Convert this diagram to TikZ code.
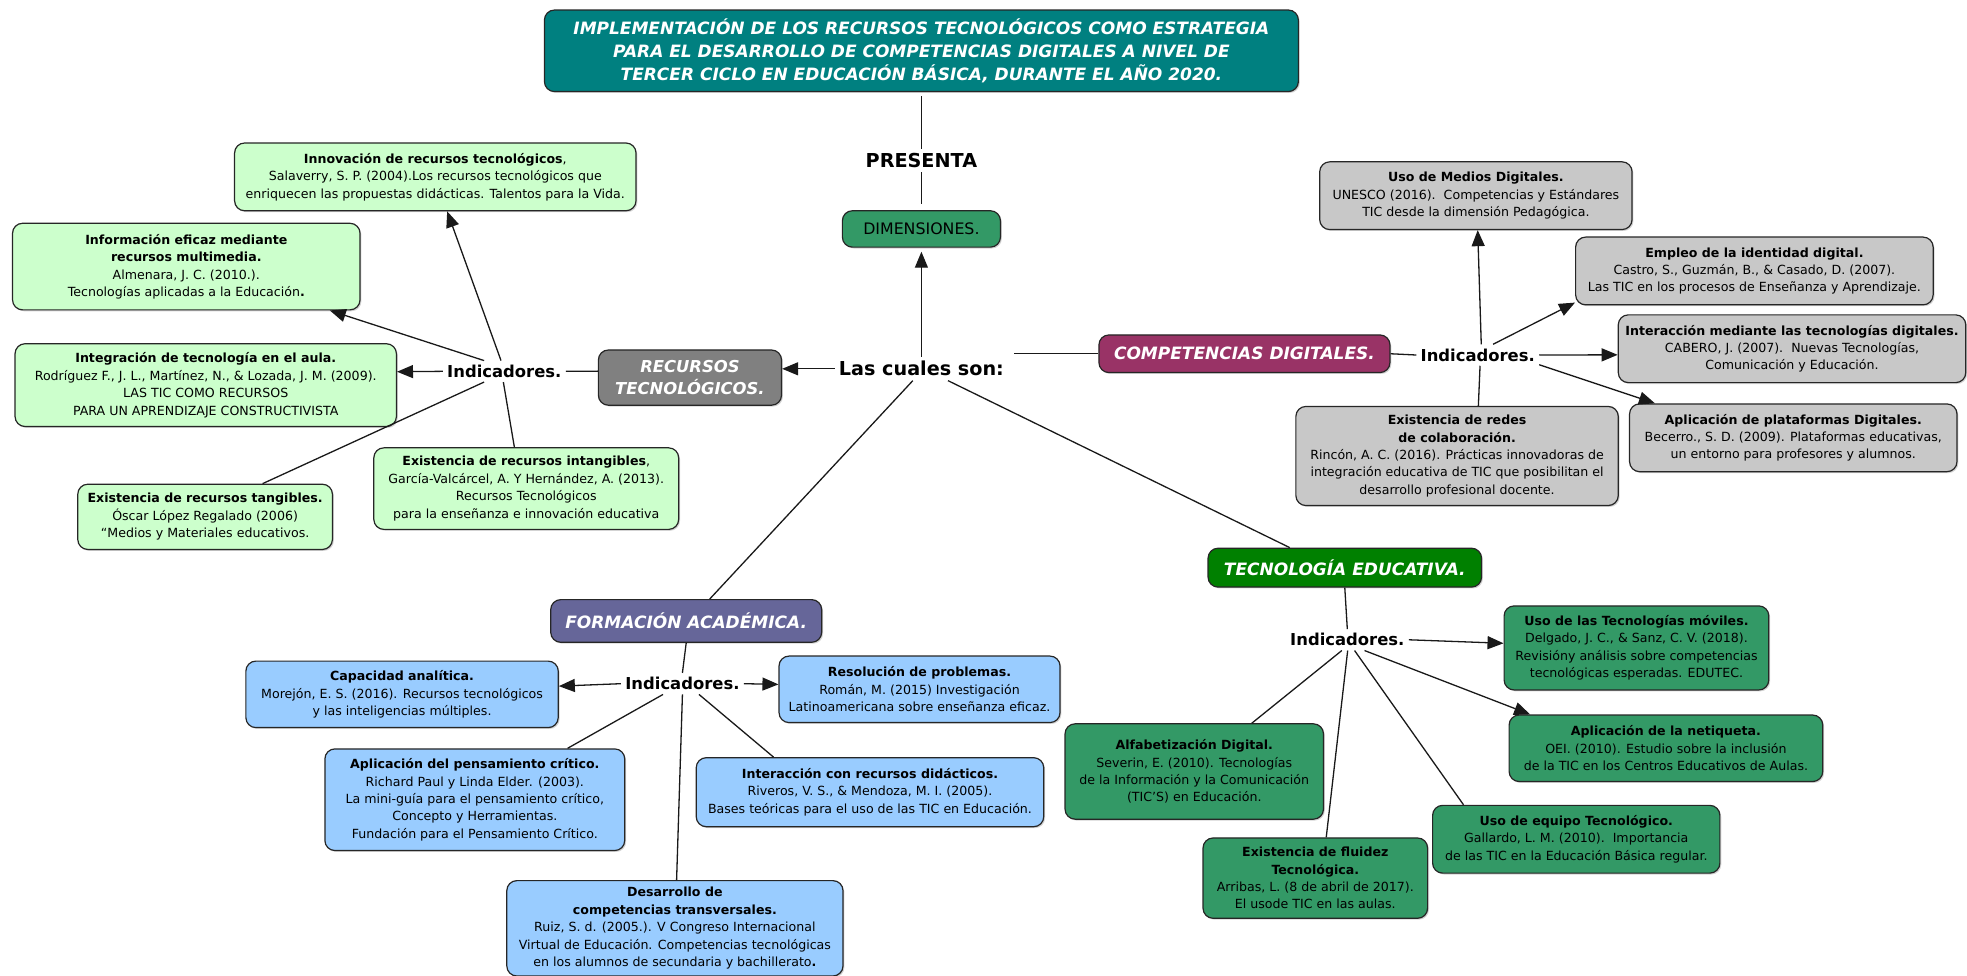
\documentclass[tikz,border=0pt]{standalone}
\usepackage{fontspec}
\setmainfont{DejaVu Sans}
\usetikzlibrary{arrows.meta,shadows}
\definecolor{titleteal}{HTML}{008080}
\definecolor{dimgreen}{HTML}{339966}
\definecolor{recgrey}{HTML}{808080}
\definecolor{comppurple}{HTML}{993366}
\definecolor{formslate}{HTML}{666699}
\definecolor{tecgreen}{HTML}{008000}
\definecolor{leafgreen}{HTML}{CCFFCC}
\definecolor{leafgrey}{HTML}{C8C8C8}
\definecolor{leafblue}{HTML}{99CCFF}
\definecolor{leafdark}{HTML}{339966}
\begin{document}
\begin{tikzpicture}[x=0.62725pt,y=-0.62725pt,
  bw/.style={minimum width=#1*0.62725pt},
  bh/.style={minimum height=#1*0.62725pt},
  box/.style={draw=black!85, line width=0.6pt, rounded corners=5pt, align=center, inner sep=1pt,
    font=\fontsize{6.3}{8.7}\selectfont,
    drop shadow={shadow xshift=0.7pt,shadow yshift=-0.7pt,opacity=0.35}},
  catbox/.style={box, text=white, font=\fontsize{8.5}{10.7}\selectfont\bfseries\itshape},
  titlebox/.style={box, fill=titleteal, text=white, font=\fontsize{8.5}{11.3}\selectfont\bfseries\itshape},
  ind/.style={font=\fontsize{8.2}{10}\selectfont\bfseries, inner sep=2pt},
  big/.style={font=\fontsize{9.6}{11}\selectfont\bfseries, inner sep=2pt},
  conn/.style={draw=black!90, line width=0.65pt},
  arr/.style={conn, -{Triangle[length=8pt,width=6.5pt]}},
  gbox/.style={box, fill=leafgreen},
  sbox/.style={box, fill=leafgrey},
  bbox/.style={box, fill=leafblue},
  dbox/.style={box, fill=leafdark}
]
\path[use as bounding box] (0,0) rectangle (1568,778);

% central spine
\node[titlebox, bw=601, bh=65] (title) at (734.5,40.5) {IMPLEMENTACIÓN DE LOS RECURSOS TECNOLÓGICOS COMO ESTRATEGIA\\PARA EL DESARROLLO DE COMPETENCIAS DIGITALES A NIVEL DE\\TERCER CICLO EN EDUCACIÓN BÁSICA, DURANTE EL AÑO 2020.};
\node[big] (pres) at (734.5,128) {PRESENTA};
\node[box, fill=dimgreen, bw=126, bh=29, font=\fontsize{7.9}{9}\selectfont] (dim) at (734.5,182.5) {DIMENSIONES.};
\node[big] (lcs) at (734.5,294) {Las cuales son:};

\node[catbox, fill=recgrey, bw=146, bh=44, font=\fontsize{8.2}{10.7}\selectfont\bfseries\itshape] (rec) at (550,301) {RECURSOS\\TECNOLÓGICOS.};
\node[catbox, fill=comppurple, bw=232, bh=30] (comp) at (992,282) {COMPETENCIAS DIGITALES.};
\node[catbox, fill=formslate, bw=216, bh=34] (form) at (547,495) {FORMACIÓN ACADÉMICA.};
\node[catbox, fill=tecgreen, bw=218, bh=31] (tec) at (1072,452.5) {TECNOLOGÍA EDUCATIVA.};

\node[ind] (i1) at (402,296) {Indicadores.};
\node[ind] (i2) at (1178,283) {Indicadores.};
\node[ind] (i3) at (544,545) {Indicadores.};
\node[ind] (i4) at (1074,510) {Indicadores.};

% recursos tecnologicos leaves
\node[gbox, bw=320, bh=54] (innov) at (347,141) {\textbf{Innovación de recursos tecnológicos},\\Salaverry, S. P. (2004).Los recursos tecnológicos que\\enriquecen las propuestas didácticas. Talentos para la Vida.};
\node[gbox, bw=277, bh=69] (inform) at (148.5,212.5) {\textbf{Información eficaz mediante}\\\textbf{recursos multimedia.}\\Almenara, J. C. (2010.).\\Tecnologías aplicadas a la Educación\textbf{.}};
\node[gbox, bw=304, bh=66] (integ) at (164,307) {\textbf{Integración de tecnología en el aula.}\\Rodríguez F., J. L., Martínez, N., \& Lozada, J. M. (2009).\\LAS TIC COMO RECURSOS\\PARA UN APRENDIZAJE CONSTRUCTIVISTA};
\node[gbox, bw=203, bh=52] (tang) at (163.5,412) {\textbf{Existencia de recursos tangibles.}\\Óscar López Regalado (2006)\\“Medios y Materiales educativos.};
\node[gbox, bw=243, bh=65] (intang) at (419.5,389.5) {\textbf{Existencia de recursos intangibles},\\García-Valcárcel, A. Y Hernández, A. (2013).\\Recursos Tecnológicos\\para la enseñanza e innovación educativa};

% competencias digitales leaves
\node[sbox, bw=249, bh=54] (medios) at (1176.5,156) {\textbf{Uso de Medios Digitales.}\\UNESCO (2016).\ \ Competencias y Estándares\\TIC desde la dimensión Pedagógica.};
\node[sbox, bw=285, bh=54] (empleo) at (1398.5,216) {\textbf{Empleo de la identidad digital.}\\Castro, S., Guzmán, B., \& Casado, D. (2007).\\Las TIC en los procesos de Enseñanza y Aprendizaje.};
\node[sbox, bw=277, bh=54] (interac) at (1428.5,278) {\textbf{Interacción mediante las tecnologías digitales.}\\CABERO, J. (2007).\ \ Nuevas Tecnologías,\\Comunicación y Educación.};
\node[sbox, bw=257, bh=79] (redes) at (1161.5,363.5) {\textbf{Existencia de redes}\\\textbf{de colaboración.}\\Rincón, A. C. (2016). Prácticas innovadoras de\\integración educativa de TIC que posibilitan el\\desarrollo profesional docente.};
\node[sbox, bw=261, bh=54] (plataf) at (1429.5,349) {\textbf{Aplicación de plataformas Digitales.}\\Becerro., S. D. (2009). Plataformas educativas,\\un entorno para profesores y alumnos.};

% formacion academica leaves
\node[bbox, bw=249, bh=53] (capac) at (320.5,553.5) {\textbf{Capacidad analítica.}\\Morejón, E. S. (2016). Recursos tecnológicos\\y las inteligencias múltiples.};
\node[bbox, bw=224, bh=53] (resol) at (733,549.5) {\textbf{Resolución de problemas.}\\Román, M. (2015) Investigación\\Latinoamericana sobre enseñanza eficaz.};
\node[bbox, bw=239, bh=81] (pensam) at (378.5,637.5) {\textbf{Aplicación del pensamiento crítico.}\\Richard Paul y Linda Elder. (2003).\\La mini-guía para el pensamiento crítico,\\Concepto y Herramientas.\\Fundación para el Pensamiento Crítico.};
\node[bbox, bw=277, bh=55] (interrec) at (693.5,631.5) {\textbf{Interacción con recursos didácticos.}\\Riveros, V. S., \& Mendoza, M. I. (2005).\\Bases teóricas para el uso de las TIC en Educación.};
\node[bbox, bw=268, bh=76] (desarr) at (538,740) {\textbf{Desarrollo de}\\\textbf{competencias transversales.}\\Ruiz, S. d. (2005.). V Congreso Internacional\\Virtual de Educación. Competencias tecnológicas\\en los alumnos de secundaria y bachillerato\textbf{.}};

% tecnologia educativa leaves
\node[dbox, bw=211, bh=67] (movil) at (1304.5,516.5) {\textbf{Uso de las Tecnologías móviles.}\\Delgado, J. C., \& Sanz, C. V. (2018).\\Revisióny análisis sobre competencias\\tecnológicas esperadas. EDUTEC.};
\node[dbox, bw=250, bh=53] (netiq) at (1328,596.5) {\textbf{Aplicación de la netiqueta.}\\OEI. (2010). Estudio sobre la inclusión\\de la TIC en los Centros Educativos de Aulas.};
\node[dbox, bw=206, bh=76] (alfab) at (952,615) {\textbf{Alfabetización Digital.}\\Severin, E. (2010). Tecnologías\\de la Información y la Comunicación\\(TIC'S) en Educación.};
\node[dbox, bw=229, bh=54] (equipo) at (1256.5,669) {\textbf{Uso de equipo Tecnológico.}\\Gallardo, L. M. (2010).\ \ Importancia\\de las TIC en la Educación Básica regular.};
\node[dbox, bw=179, bh=64] (fluidez) at (1048.5,700) {\textbf{Existencia de fluidez}\\\textbf{Tecnológica.}\\Arribas, L. (8 de abril de 2017).\\El usode TIC en las aulas.};

% spine connectors
\draw[conn, shorten <=2pt] (title.south) -- (pres.north);
\draw[conn, shorten >=3pt] (pres.south) -- (dim.north);
\draw[arr] (lcs.north) -- ([yshift=-2pt]dim.south);
\draw[arr] (lcs.west) -- (rec.east |- lcs.west);
\draw[conn] ([xshift=3pt]lcs.east |- comp.west) -- (comp.west);
\draw[conn] (lcs.234) -- (form.43);
\draw[conn] (lcs.-24) -- (tec.160);

% recursos tecnologicos
\draw[conn] (i1.east) -- (rec.176);
\draw[arr] (i1.107) -- (innov.-71);
\draw[arr] (i1.152) -- (inform.-17);
\draw[arr] (i1.west) -- (integ.4);
\draw[conn] (i1.208) -- (tang.30);
\draw[conn] (i1.265) -- (intang.106);

% competencias digitales
\draw[conn] (comp.east) -- (i2.west);
\draw[arr] (i2.72) -- (medios.-87);
\draw[arr] (i2.35) -- (empleo.190);
\draw[arr] (i2.east) -- (interac.182);
\draw[arr] (i2.-9) -- (plataf.166.6);
\draw[conn] (i2.-78) -- (redes.67);

% formacion academica
\draw[conn] (form.south) -- (i3.north);
\draw[arr] (i3.west) -- (capac.3);
\draw[arr] (i3.east) -- (resol.178);
\draw[conn] (i3.209) -- (pensam.29.5);
\draw[conn] (i3.south) -- (desarr.88);
\draw[conn] (i3.-33) -- (interrec.160.7);

% tecnologia educativa
\draw[conn] (tec.south) -- (i4.north);
\draw[arr] (i4.east) -- (movil.178);
\draw[arr] (i4.-32) -- (netiq.166.8);
\draw[conn] (i4.243) -- (alfab.40.8);
\draw[conn] (i4.-88) -- (fluidez.75);
\draw[conn] (i4.-56) -- (equipo.163);
\end{tikzpicture}
\end{document}
